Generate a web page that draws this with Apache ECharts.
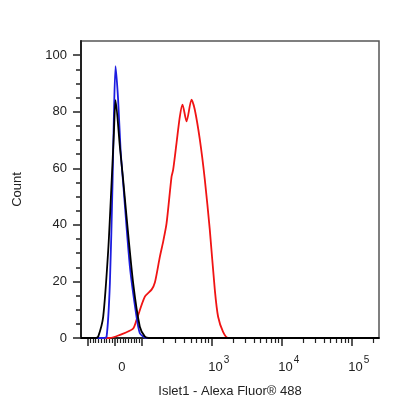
<!DOCTYPE html>
<html>
<head>
<meta charset="utf-8">
<script src="https://cdn.jsdelivr.net/npm/echarts@6/dist/echarts.min.js"></script>
<style>
html, body { margin: 0; padding: 0; background: #fff; }
#chart { width: 416px; height: 416px; }
</style>
</head>
<body>
<div id="chart"></div>
<script>
// x is in display units of the biexponential axis:
// 10^2 -> 2, 10^3 -> 3, 10^4 -> 4, 10^5 -> 5, zero sits at 1.614
var zeroPos = 1.614;
var xMin = 1.13, xMax = 5.39;

// Islet1 stained sample (red)
var redCurve = [
    [1.13, 0], [1.543, 0], [1.686, 1.1], [1.871, 3.2], [1.924, 6.4], [2.043, 14.6],
    [2.139, 17.1], [2.186, 19.6], [2.257, 28.7], [2.304, 34], [2.353, 40.5],
    [2.424, 57], [2.447, 59.4], [2.496, 69], [2.543, 78.3], [2.581, 82.5],
    [2.639, 76.6], [2.71, 84.3], [2.757, 80.7], [2.829, 70.1], [2.9, 56],
    [2.971, 38.3], [3.043, 17], [3.09, 7.5], [3.161, 2.2], [3.233, 0], [5.39, 0]
];
// isotype control (blue)
var blueCurve = [
    [1.13, 0], [1.443, 0], [1.496, 0.5], [1.543, 19.4], [1.581, 54.8], [1.6, 78.2],
    [1.624, 96.1], [1.661, 84.1], [1.696, 66.4], [1.733, 54.7], [1.829, 25.2],
    [1.924, 7.5], [1.971, 1.7], [2.019, 0.5], [2.06, 0], [5.39, 0]
];
// unstained control (black)
var blackCurve = [
    [1.13, 0], [1.343, 0], [1.376, 0.5], [1.447, 7.5], [1.519, 31], [1.567, 54.8],
    [1.6, 72.4], [1.624, 84.1], [1.686, 67.6], [1.733, 55.8], [1.781, 42.9],
    [1.876, 19.3], [1.971, 4], [2.043, 0.5], [2.1, 0], [5.39, 0]
];

var xLabelValues = [zeroPos, 3, 4, 5];
var xLabelTexts = ['{b|0}', '{b|10}{s|3}', '{b|10}{s|4}', '{b|10}{s|5}'];
var xMajorTicks = [1.221, zeroPos, 2, 3, 4, 5];
var xMinorTicks = [];
for (var k = 1; k < 10; k++) {
    xMinorTicks.push(zeroPos - k * (zeroPos - 1.221) / 10);
    xMinorTicks.push(zeroPos + k * (2 - zeroPos) / 10);
}
[2, 3, 4].forEach(function (dec) {
    for (var m = 2; m < 10; m++) xMinorTicks.push(dec + Math.log10(m));
});
xMinorTicks.push(5 + Math.log10(2));

var yMajorTicks = [0, 20, 40, 60, 80, 100];
var yMinorTicks = [5, 10, 15, 25, 30, 35, 45, 50, 55, 65, 70, 75, 85, 90, 95];

var font = 'Liberation Sans, Arial, sans-serif';
var axisColor = '#222';

var myChart = echarts.init(document.getElementById('chart'));
var option = {
    animation: false,
    grid: {
        left: 81, right: 37, top: 41, bottom: 78,
        show: true, borderColor: '#555', borderWidth: 1.5
    },
    xAxis: [{
        type: 'value', min: xMin, max: xMax, position: 'bottom',
        name: 'Islet1 - Alexa Fluor® 488',
        nameLocation: 'middle', nameGap: 47,
        nameTextStyle: { fontFamily: font, fontSize: 13, color: axisColor },
        axisLine: { show: true, onZero: false, lineStyle: { color: axisColor, width: 2 } },
        axisTick: { show: true, customValues: xMajorTicks, length: 8, lineStyle: { color: axisColor, width: 1.5 } },
        axisLabel: {
            customValues: xLabelValues, margin: 15, padding: [0, 0, 0, 14],
            fontFamily: font, fontSize: 13, color: axisColor,
            formatter: function (v) {
                var i = xLabelValues.indexOf(v);
                return i >= 0 ? xLabelTexts[i] : '';
            },
            rich: {
                b: { fontFamily: font, fontSize: 13, color: axisColor, padding: [8, 0, 0, 0] },
                s: { fontFamily: font, fontSize: 10, color: axisColor, padding: [0, 0, 6, 1] }
            }
        },
        splitLine: { show: false }
    }, {
        type: 'value', min: xMin, max: xMax, position: 'bottom',
        axisLine: { show: false, onZero: false },
        axisTick: { show: true, customValues: xMinorTicks, length: 5, lineStyle: { color: axisColor, width: 1.2 } },
        axisLabel: { show: false },
        splitLine: { show: false }
    }],
    yAxis: [{
        type: 'value', min: 0, max: 105, position: 'left',
        name: 'Count', nameLocation: 'middle', nameGap: 57,
        nameTextStyle: { fontFamily: font, fontSize: 13, color: axisColor },
        axisLine: { show: true, onZero: false, lineStyle: { color: axisColor, width: 2 } },
        axisTick: { show: true, customValues: yMajorTicks, length: 8, lineStyle: { color: axisColor, width: 1.5 } },
        axisLabel: { customValues: yMajorTicks, margin: 14, fontFamily: font, fontSize: 13, color: axisColor },
        splitLine: { show: false }
    }, {
        type: 'value', min: 0, max: 105, position: 'left',
        axisLine: { show: false, onZero: false },
        axisTick: { show: true, customValues: yMinorTicks, length: 5, lineStyle: { color: axisColor, width: 1.5 } },
        axisLabel: { show: false },
        splitLine: { show: false }
    }],
    series: [{
        name: 'Islet1', type: 'line', data: redCurve, smooth: 0.25,
        showSymbol: false, lineStyle: { color: '#f01414', width: 1.8 }
    }, {
        name: 'Isotype', type: 'line', data: blueCurve, smooth: 0.25,
        showSymbol: false, lineStyle: { color: '#1d1de0', width: 1.8 }
    }, {
        name: 'Unstained', type: 'line', data: blackCurve, smooth: 0.25,
        showSymbol: false, lineStyle: { color: '#000', width: 1.8 }
    }]
};
myChart.setOption(option);
</script>
</body>
</html>
